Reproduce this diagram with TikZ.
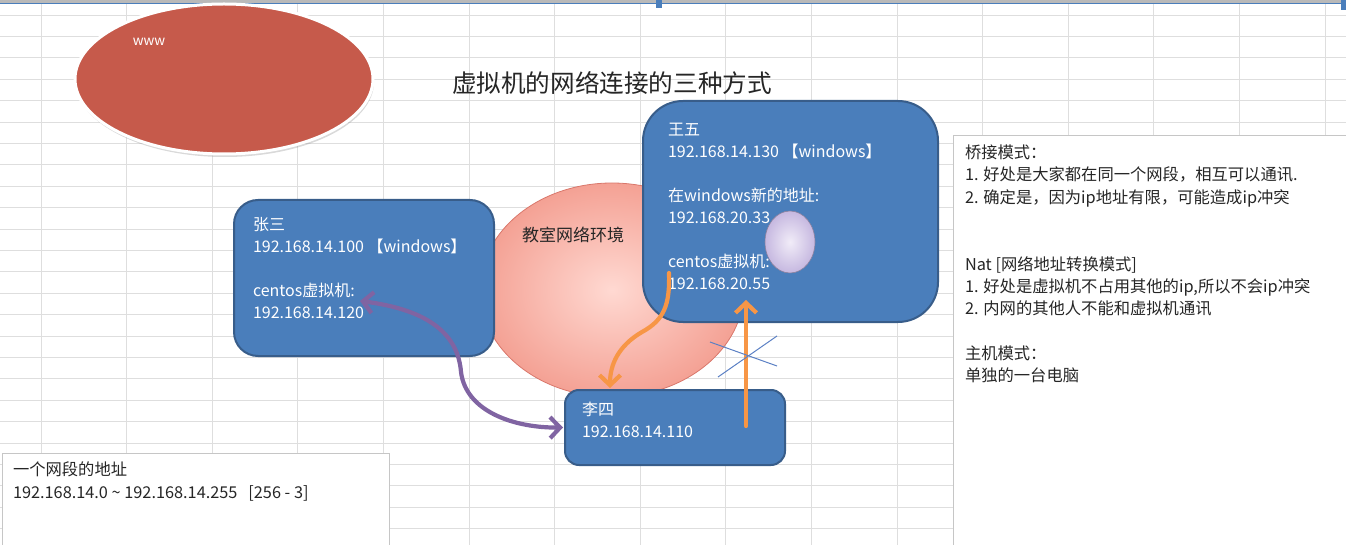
\documentclass[tikz,border=0pt]{standalone}
\usepackage{fontspec}
\setmainfont{Noto Sans CJK SC}
\usetikzlibrary{positioning,arrows.meta,shapes.geometric,shadows}

\definecolor{boxblue}{HTML}{4A7EBB}
\definecolor{boxedge}{HTML}{385D8A}
\definecolor{gridgray}{HTML}{DEDEDE}
\definecolor{wwwred}{HTML}{C65A4B}
\definecolor{netpink}{HTML}{F4A194}
\definecolor{netpinklight}{HTML}{FFD9D2}
\definecolor{netedge}{HTML}{D9776B}
\definecolor{vmlilac}{HTML}{C6B8E0}
\definecolor{vmlilaclight}{HTML}{F1ECF8}
\definecolor{linkpurple}{HTML}{8064A2}
\definecolor{linkorange}{HTML}{F79646}
\definecolor{crossblue}{HTML}{5B80C4}

\begin{document}
\begin{tikzpicture}[x=1pt, y=-1pt,
  every node/.style={inner sep=0pt, outer sep=0pt},
  hostbox/.style={draw=boxedge, line width=2pt, fill=boxblue, rounded corners=#1, anchor=north west},
  hosttext/.style={text=white, align=left, anchor=north west, font=\fontsize{16}{22}\selectfont},
  notebox/.style={draw=gray!45, line width=0.8pt, fill=white, anchor=north west},
  notetext/.style={text=black!85, align=left, anchor=north west, font=\fontsize{16.3}{22.3}\selectfont},
  link/.style={line width=4.2pt, line cap=round, >={Straight Barb[length=10pt,width=21pt]}}
]
\useasboundingbox (0,0) rectangle (1346,545);
\clip (0,0) rectangle (1346,545);

% sheet grid
\foreach \gx in {0,...,15}
  \draw[gridgray, line width=0.9pt] ({41+85.6*\gx},4) -- ({41+85.6*\gx},545);
\foreach \gy in {0,...,25}
  \draw[gridgray, line width=0.9pt] (0,{15+21.4*\gy}) -- (1346,{15+21.4*\gy});
\fill[gray!55] (0,0) rectangle (1346,3);
\draw[boxblue, line width=1pt] (0,4) -- (1346,4);
\fill[boxblue] (656,0) rectangle (662,8);
\fill[boxblue] (1341,0) rectangle (1346,10);
\fill[boxblue] (1342,276) rectangle (1346,290);

% internet
\node[ellipse, draw=white, line width=3pt, fill=wwwred, minimum width=298, minimum height=150,
  drop shadow={opacity=0.3, shadow xshift=1pt, shadow yshift=-3pt}] (internet) at (224,79) {};
\node[text=white, font=\fontsize{13.5}{13.5}\selectfont] (wwwlabel) at (149,42) {www};

\node[text=black!85, font=\fontsize{24.6}{24.6}\selectfont] (title) at (612,83) {虚拟机的网络连接的三种方式};

% classroom network
\node[ellipse, draw=netedge, line width=0.8pt, inner color=netpinklight, outer color=netpink,
  minimum width=264, minimum height=214] (classnet) at (612,290) {};
\node[anchor=west, text=black!85, font=\fontsize{17}{17}\selectfont] (classlabel) at (522,235) {教室网络环境};

% hosts
\node[hostbox=24pt, minimum width=260, minimum height=156] (zhangsan) at (234,200) {};
\node[hosttext, below right=17pt and 19pt of zhangsan.north west] (zhangsantxt)
  {张三\\192.168.14.100 【windows】\\[22pt]centos虚拟机:\\192.168.14.120};

\node[hostbox=40pt, minimum width=295, minimum height=221] (wangwu) at (643,101) {};
\node[hosttext, below right=22pt and 25pt of wangwu.north west] (wangwutxt)
  {王五\\192.168.14.130 【windows】\\[22pt]在windows新的地址:\\192.168.20.33\\[22pt]centos虚拟机:\\192.168.20.55};
\node[ellipse, draw=vmlilac!70!black, line width=0.6pt, inner color=vmlilaclight, outer color=vmlilac,
  minimum width=50, minimum height=62] (vmball) at (790,242) {};

\node[hostbox=14pt, minimum width=220, minimum height=75] (lisi) at (565,390) {};
\node[hosttext, below right=12pt and 17pt of lisi.north west] (lisitxt)
  {李四\\192.168.14.110};

% links
\coordinate (zsvm) at (360,301);
\coordinate (wwvm) at (669,273);
\coordinate (lsup) at (746,426);
\coordinate (wwip) at (746,300);
\draw[link, linkpurple, <->] (zsvm) .. controls (430,310) and (458,335) .. (461,372)
  .. controls (466,412) and (515,428) .. ([xshift=-2pt]lisi.west);
\draw[link, linkorange, ->] (wwvm) .. controls (670,305) and (664,320) .. (642,332)
  .. controls (618,346) and (610,365) .. ([xshift=45pt,yshift=2pt]lisi.north west);
\draw[link, linkorange, ->] (lsup) -- (wwip);

% blocked
\draw[crossblue, line width=1pt] (710,342) -- (777,366);
\draw[crossblue, line width=1pt] (718,377) -- (777,336);

% notes
\node[notebox, minimum width=400, minimum height=420] (modes) at (953,135) {};
\node[notetext, below right=10pt and 12pt of modes.north west] (modestxt)
  {桥接模式：\\
   1. 好处是大家都在同一个网段，相互可以通讯.\\
   2. 确定是，因为ip地址有限，可能造成ip冲突\\[44.6pt]
   Nat [网络地址转换模式]\\
   1. 好处是虚拟机不占用其他的ip,所以不会ip冲突\\
   2. 内网的其他人不能和虚拟机通讯\\[22.3pt]
   主机模式：\\
   单独的一台电脑};

\node[notebox, minimum width=387, minimum height=100] (segment) at (2,453) {};
\node[notetext, below right=9pt and 11pt of segment.north west] (segmenttxt)
  {一个网段的地址\\192.168.14.0 \textasciitilde{} 192.168.14.255 \ \ [256 - 3]};
\end{tikzpicture}
\end{document}
